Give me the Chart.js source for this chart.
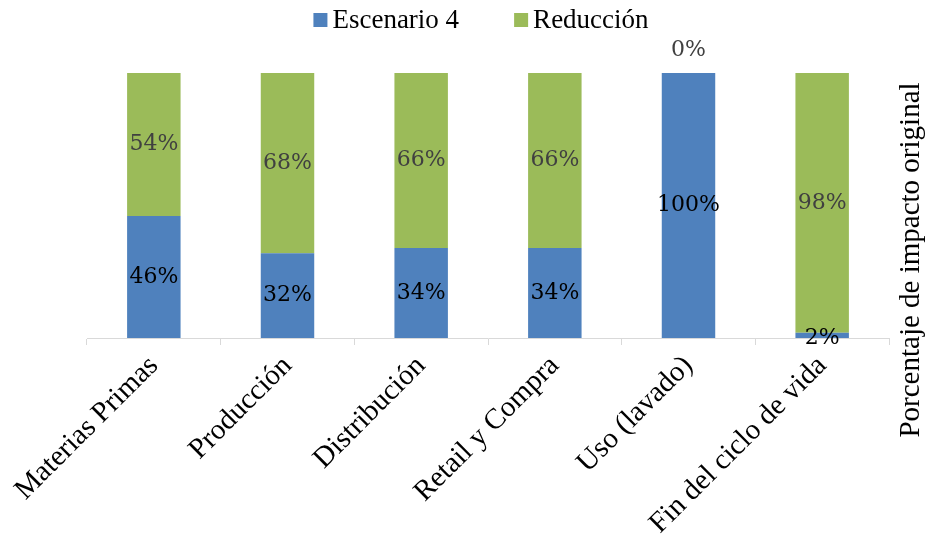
<!DOCTYPE html>
<html>
<head>
<meta charset="utf-8">
<script src="https://cdn.jsdelivr.net/npm/chart.js@4/dist/chart.umd.min.js"></script>
<style>
  html, body { margin: 0; padding: 0; background: #fff; }
</style>
</head>
<body>
<canvas id="chart" width="927" height="541"></canvas>
<script>
// Stages of the life cycle and share of original impact
const stages = ['Materias Primas', 'Producción', 'Distribución', 'Retail y Compra', 'Uso (lavado)', 'Fin del ciclo de vida'];
const escenario4 = [46, 32, 34, 34, 100, 2];
const reduccion = [54, 68, 66, 66, 0, 98];

const serif = '"Liberation Serif", "Times New Roman", serif';

// Percent labels drawn in the middle of each segment
const segmentLabels = {
    id: 'segmentLabels',
    afterDatasetsDraw(chart) {
        const ctx = chart.ctx;
        ctx.save();
        ctx.font = '22px "DejaVu Serif"';
        ctx.textAlign = 'center';
        ctx.textBaseline = 'middle';
        chart.data.datasets.forEach((ds, i) => {
            const meta = chart.getDatasetMeta(i);
            meta.data.forEach((bar, j) => {
                const v = ds.data[j];
                const p = bar.getProps(['x', 'y', 'base'], true);
                let y = (p.y + p.base) / 2;
                if (v === 0) y = p.y - 23;        // empty segment: label sits above the bar
                else if (p.base - p.y < 10) y = p.base; // thin segment: label on the axis
                ctx.fillStyle = ds.labelColor;
                ctx.fillText(v + '%', p.x, y);
            });
        });
        ctx.restore();
    }
};

// Legend row at the top
const topLegend = {
    id: 'topLegend',
    afterDraw(chart) {
        const ctx = chart.ctx;
        const box = 14, gapText = 5, gapItem = 55, cy = 20, cx = 481;
        ctx.save();
        ctx.font = '27px ' + serif;
        ctx.textBaseline = 'middle';
        const items = chart.data.datasets.map(ds => ({
            text: ds.label,
            color: ds.backgroundColor,
            w: box + gapText + ctx.measureText(ds.label).width
        }));
        const total = items.reduce((s, it) => s + it.w, 0) + gapItem * (items.length - 1);
        let x = cx - total / 2;
        items.forEach(it => {
            ctx.fillStyle = it.color;
            ctx.fillRect(x, cy - box / 2, box, box);
            ctx.fillStyle = '#000';
            ctx.fillText(it.text, x + box + gapText, cy + 1);
            x += it.w + gapItem;
        });
        ctx.restore();
    }
};

// Axis title on the right, reading bottom to top
const rightTitle = {
    id: 'rightTitle',
    afterDraw(chart) {
        const ctx = chart.ctx;
        ctx.save();
        ctx.translate(911, 260);
        ctx.rotate(-Math.PI / 2);
        ctx.font = '29px ' + serif;
        ctx.fillStyle = '#000';
        ctx.textAlign = 'center';
        ctx.textBaseline = 'middle';
        ctx.fillText('Porcentaje de impacto original', 0, 0);
        ctx.restore();
    }
};

new Chart(document.getElementById('chart'), {
    type: 'bar',
    data: {
        labels: stages,
        datasets: [{
            label: 'Escenario 4',
            data: escenario4,
            backgroundColor: '#4F81BD',
            labelColor: '#000000',
            barPercentage: 0.4,
            categoryPercentage: 1
        }, {
            label: 'Reducción',
            data: reduccion,
            backgroundColor: '#9BBB59',
            labelColor: '#404040',
            barPercentage: 0.4,
            categoryPercentage: 1
        }]
    },
    options: {
        responsive: false,
        animation: false,
        layout: { padding: { left: 87, right: 38, top: 73, bottom: 0 } },
        plugins: {
            legend: { display: false },
            tooltip: { enabled: false }
        },
        scales: {
            x: {
                stacked: true,
                afterFit(scale) {
                    scale.paddingLeft = 0;
                    scale.paddingRight = 0;
                    scale.height = 203;
                },
                grid: {
                    offset: true,
                    drawOnChartArea: false,
                    tickLength: 7,
                    color: '#d9d9d9'
                },
                border: { color: '#d9d9d9' },
                ticks: {
                    minRotation: 45,
                    maxRotation: 45,
                    padding: 4,
                    color: '#000',
                    font: { family: serif, size: 29 }
                }
            },
            y: {
                stacked: true,
                display: false,
                min: 0,
                max: 100
            }
        }
    },
    plugins: [segmentLabels, topLegend, rightTitle]
});
</script>
</body>
</html>
